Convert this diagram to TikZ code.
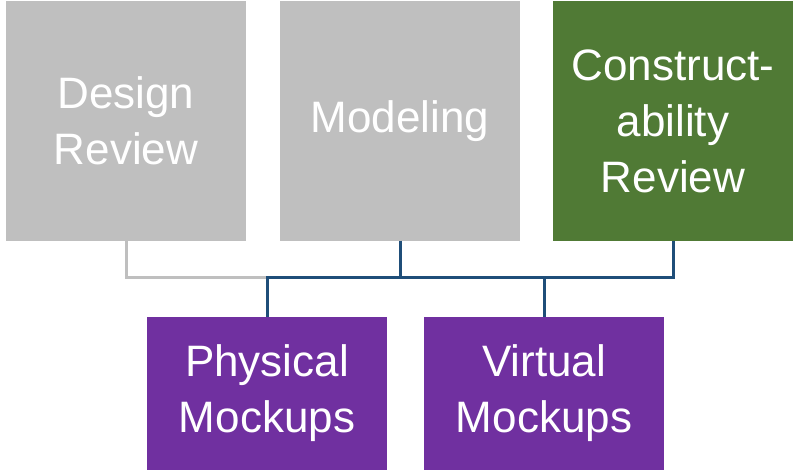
\documentclass[tikz,border=0pt]{standalone}
\usepackage{fontspec}
\setmainfont{Liberation Sans}
\definecolor{boxgray}{HTML}{BFBFBF}
\definecolor{boxgreen}{HTML}{507A35}
\definecolor{boxpurple}{HTML}{7030A0}
\definecolor{linkblue}{HTML}{1F4E79}
\begin{document}
\begin{tikzpicture}[x=1pt,y=1pt,
  card/.style={rectangle, inner sep=0pt, minimum width=240pt, text=white,
    align=center, font=\fontsize{44}{56}\selectfont},
  topcard/.style={card, minimum height=239pt},
  lowcard/.style={card, minimum height=153pt},
  greylink/.style={draw=boxgray, line width=3pt},
  bluelink/.style={draw=linkblue, line width=3pt}]
  \useasboundingbox (0,0) rectangle (795,472);
  % upper row
  \node[topcard, fill=boxgray]  (dr) at (126,351) {Design\\Review};
  \node[topcard, fill=boxgray]  (mo) at (400,351) {Modeling};
  \node[topcard, fill=boxgreen] (cr) at (673,351) {Construct-\\ability\\Review};
  % lower row
  \node[lowcard, fill=boxpurple] (pm) at (267,78.5) {Physical\\Mockups};
  \node[lowcard, fill=boxpurple] (vm) at (544,78.5) {Virtual\\Mockups};
  % shared bus line
  \coordinate (bus) at (0,195);
  \draw[greylink] (dr.south) |- (bus -| pm.north);
  \draw[bluelink] (pm.north) -- (bus -| pm.north) -- (bus -| cr.south) -- (cr.south);
  \draw[bluelink] (mo.south) -- (bus -| mo.south);
  \draw[bluelink] (vm.north) -- (bus -| vm.north);
\end{tikzpicture}
\end{document}
